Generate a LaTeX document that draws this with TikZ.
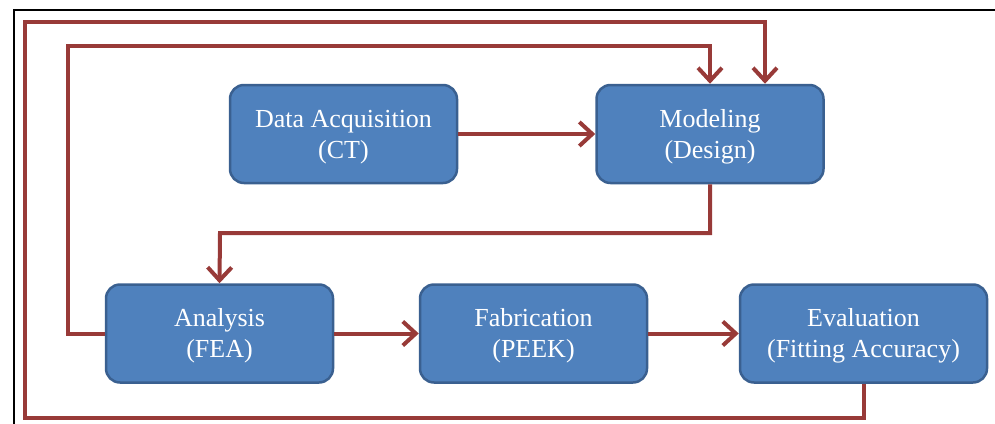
\documentclass[tikz,border=0pt]{standalone}
\usepackage{fontspec}
\setmainfont{Liberation Serif}
\usetikzlibrary{arrows.meta}
\definecolor{boxfill}{HTML}{4F81BD}
\definecolor{boxline}{HTML}{3A6090}
\definecolor{linkred}{HTML}{983A38}
\begin{document}
\begin{tikzpicture}[x=1pt,y=-1pt,
  stagebox/.style={draw=boxline, line width=2.5pt, fill=boxfill, rounded corners=14pt,
    minimum width=227pt, minimum height=98pt, align=center, text=white,
    font=\fontsize{26}{31}\selectfont, inner sep=0pt, text height=54pt},
  link/.style={draw=linkred, line width=4pt},
  arr/.style={link, -{Straight Barb[length=13pt, width=24pt, line width=4pt]}}]
\useasboundingbox (0,0) rectangle (995,423);
\draw[black, line width=2pt] (14,424) -- (14,10) -- (996,10);
\node[stagebox] (da)  at (343.5,134) {Data Acquisition\\(CT)};
\node[stagebox] (mod) at (710,134) {Modeling\\(Design)};
\node[stagebox] (ana) at (219.5,333.5) {Analysis\\(FEA)};
\node[stagebox] (fab) at (533.5,333.5) {Fabrication\\(PEEK)};
\node[stagebox, minimum width=247pt] (eva) at (863.5,333.5) {Evaluation\\(Fitting Accuracy)};
\coordinate (inL) at (68,46);
\coordinate (outL) at (25,22);
\coordinate (outB) at (25,418);
\coordinate (midY) at (220,233);
\draw[arr] (da.east) -- (mod.west);
\draw[arr] (ana.east) -- (fab.west);
\draw[arr] (fab.east) -- (eva.west);
\draw[arr] (mod.south) |- (midY) -- (ana.north);
\draw[arr] (ana.west) -| (inL) -| (mod.north);
\draw[arr] (eva.south) |- (outB) |- (outL) -| ([xshift=55pt]mod.north);
\end{tikzpicture}
\end{document}
